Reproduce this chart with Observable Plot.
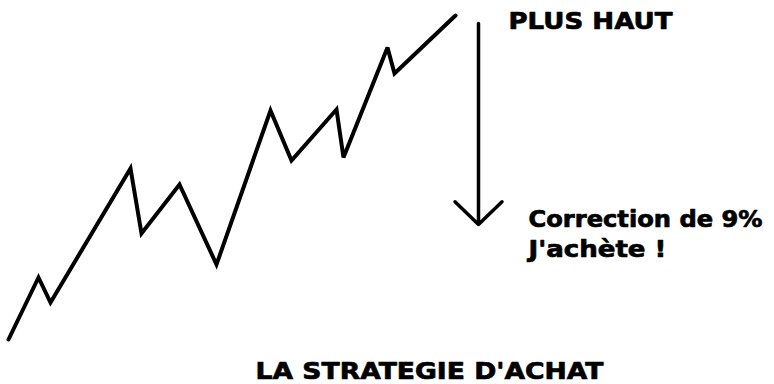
<!DOCTYPE html>
<html><head><meta charset="utf-8">
<script src="https://cdn.jsdelivr.net/npm/d3@7"></script>
<script src="https://cdn.jsdelivr.net/npm/@observablehq/plot@0.6"></script>
<style>body{margin:0;background:#fff}</style>
</head><body><div id="chart"></div>
<script>
// Price path (time in arbitrary units, price in arbitrary units)
const time  = [8, 38, 50, 130, 141, 179, 216, 270, 291, 336, 343, 387, 394, 455];
const price = [45, 107, 82, 216, 151, 200, 120, 274, 224, 275, 227, 337, 311, 369];

// Correction arrow
const arrowTime = [478];
const arrowFrom = [361];
const arrowTo   = [160];

// Annotations
const labels     = ["PLUS HAUT", "Correction de 9%", "J'achète !", "LA STRATEGIE D'ACHAT"];
const labelTime  = [508, 528, 528, 255];
const labelPrice = [356, 158, 128, 6];

// styling: stretched widths of labels (px)
const labelWidths = [164, 234, 138, 348];

const path = time.map((t, i) => ({t, p: price[i]}));
const arrows = arrowTime.map((t, i) => ({t, from: arrowFrom[i], to: arrowTo[i]}));
const texts = labels.map((s, i) => ({s, t: labelTime[i], p: labelPrice[i]}));

const chart = Plot.plot({
  width: 774,
  height: 384,
  margin: 0,
  x: {domain: [0, 774], axis: null},
  y: {domain: [0, 384], axis: null},
  style: {background: "#fff"},
  marks: [
    Plot.line(path, {x: "t", y: "p", stroke: "black", strokeWidth: 4, strokeLinejoin: "miter", strokeMiterlimit: 3}),
    Plot.arrow(arrows, {x1: "t", x2: "t", y1: "from", y2: "to", stroke: "black", strokeWidth: 3.5, headAngle: 92, headLength: 14}),
    Plot.text(texts, {x: "t", y: "p", text: "s", textAnchor: "start", lineAnchor: "bottom",
      fontFamily: "DejaVu Sans", fontWeight: "bold", fontSize: 23, fill: "black",
      stroke: "black", strokeWidth: 0.7})
  ]
});
document.getElementById("chart").appendChild(chart);
chart.querySelectorAll('g[aria-label="text"] text').forEach((el, i) => {
  el.setAttribute("textLength", labelWidths[i]);
  el.setAttribute("lengthAdjust", "spacingAndGlyphs");
});
</script>
</body></html>
